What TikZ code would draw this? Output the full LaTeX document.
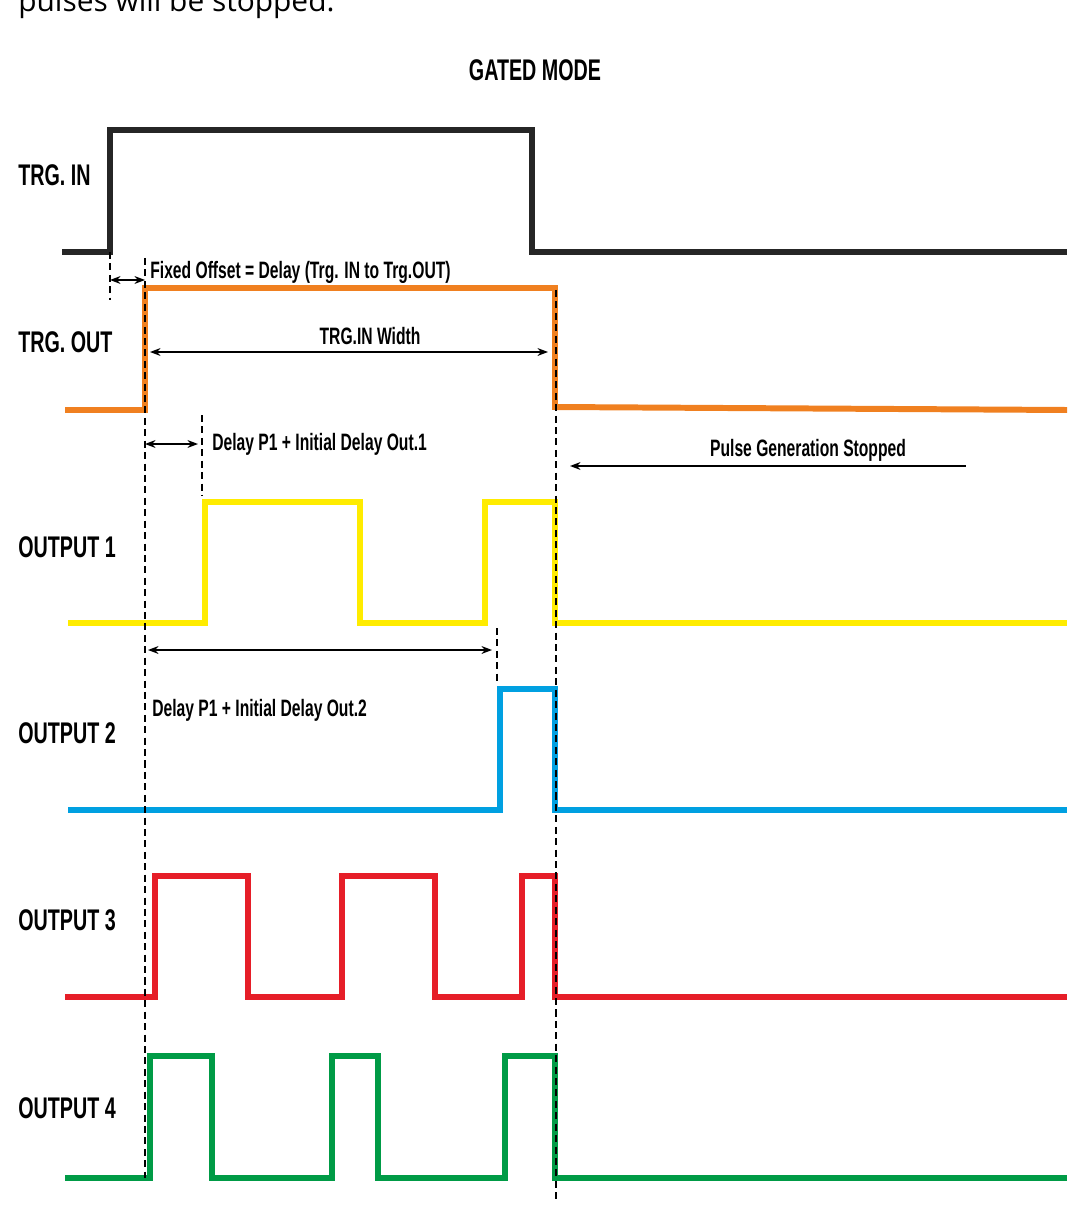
\documentclass[tikz,border=0pt]{standalone}
\usepackage{fontspec}
\setmainfont{Liberation Sans}
\newfontfamily\condfont{Liberation Sans}[FakeStretch=0.66]
\newfontfamily\bodyfont{Open Sans}
\usetikzlibrary{arrows.meta}
\definecolor{sigorange}{RGB}{240,128,32}
\definecolor{sigyellow}{RGB}{255,236,0}
\definecolor{sigblue}{RGB}{0,160,225}
\definecolor{sigred}{RGB}{230,30,40}
\definecolor{siggreen}{RGB}{0,155,70}
\tikzset{
    sig/.style={line width=3.4pt,line join=miter},
    tag/.style={font=\condfont\bfseries\fontsize{17}{19}\selectfont,anchor=west,inner sep=0pt},
    note/.style={font=\condfont\bfseries\fontsize{13.5}{15}\selectfont,inner sep=0pt},
    marker/.style={dash pattern=on 4pt off 2.5pt,line width=1.4pt},
    span/.style={line width=0.8pt,{Stealth[length=6pt]}-{Stealth[length=6pt]}}
}
\begin{document}
\begin{tikzpicture}[x=0.02cm,y=-0.02cm]
            \useasboundingbox (0,0) rectangle (1086,1216);
            \node[font=\bodyfont\fontsize{17}{20}\selectfont,anchor=west,inner sep=0pt] (intro) at (18,4) {pulses will be stopped.};
            \node[note,font=\condfont\bfseries\fontsize{17}{19}\selectfont] (title) at (535,70) {GATED MODE};
            % signal labels
            \node[tag] (trgin) at (18,175) {TRG. IN};
            \node[tag] (trgout) at (18,342) {TRG. OUT};
            \node[tag] (out1) at (18,547) {OUTPUT 1};
            \node[tag] (out2) at (18,733) {OUTPUT 2};
            \node[tag] (out3) at (18,920) {OUTPUT 3};
            \node[tag] (out4) at (18,1108) {OUTPUT 4};
            % waveforms
            \draw[sig,black!85] (62,252) -- (110,252) -- (110,130) -- (532,130) -- (532,252) -- (1067,252);
            \draw[sig,sigorange] (65,410) -- (145,410) -- (145,288) -- (555,288) -- (555,407) -- (1067,410);
            \draw[sig,sigyellow] (68,623) -- (205,623) -- (205,502) -- (360,502) -- (360,623)
                -- (485,623) -- (485,502) -- (555,502) -- (555,623) -- (1067,623);
            \draw[sig,sigblue] (68,810) -- (500,810) -- (500,689) -- (555,689) -- (555,810) -- (1067,810);
            \draw[sig,sigred] (65,997) -- (155,997) -- (155,876) -- (248,876) -- (248,997)
                -- (342,997) -- (342,876) -- (435,876) -- (435,997)
                -- (522,997) -- (522,876) -- (555,876) -- (555,997) -- (1067,997);
            \draw[sig,siggreen] (65,1178) -- (150,1178) -- (150,1056) -- (212,1056) -- (212,1178)
                -- (332,1178) -- (332,1056) -- (378,1056) -- (378,1178)
                -- (505,1178) -- (505,1056) -- (555,1056) -- (555,1178) -- (1067,1178);
            % timing markers
            \coordinate (inA) at (110,252);
            \coordinate (inB) at (110,300);
            \coordinate (startA) at (145,258);
            \coordinate (startB) at (145,1178);
            \coordinate (p1A) at (202,415);
            \coordinate (p1B) at (202,495);
            \coordinate (p2A) at (497,628);
            \coordinate (p2B) at (497,685);
            \coordinate (stopA) at (556,290);
            \coordinate (stopB) at (556,1200);
            \foreach \m in {in,start,p1,p2,stop}
                \draw[marker] (\m A) -- (\m B);
            % spans
            \coordinate (offL) at (110,280);
            \coordinate (offR) at (145,280);
            \draw[span] (offL) -- (offR);
            \node[note,anchor=west] (offset) at (150,272) {Fixed Offset = Delay (Trg. IN to Trg.OUT)};
            \coordinate (widL) at (150,352);
            \coordinate (widR) at (548,352);
            \draw[span] (widL) -- (widR);
            \node[note] (width) at (370,336) {TRG.IN Width};
            \coordinate (d1L) at (145,444);
            \coordinate (d1R) at (198,444);
            \draw[span] (d1L) -- (d1R);
            \node[note,anchor=west] (delay1) at (212,444) {Delay P1 + Initial Delay Out.1};
            \coordinate (d2L) at (148,650);
            \coordinate (d2R) at (492,650);
            \draw[span] (d2L) -- (d2R);
            \node[note,anchor=west] (delay2) at (152,710) {Delay P1 + Initial Delay Out.2};
            \coordinate (stopL) at (570,466);
            \coordinate (stopR) at (966,466);
            \draw[line width=0.8pt,{Stealth[length=6pt]}-] (stopL) -- (stopR);
            \node[note] (stopped) at (808,450) {Pulse Generation Stopped};
        \end{tikzpicture}
\end{document}
